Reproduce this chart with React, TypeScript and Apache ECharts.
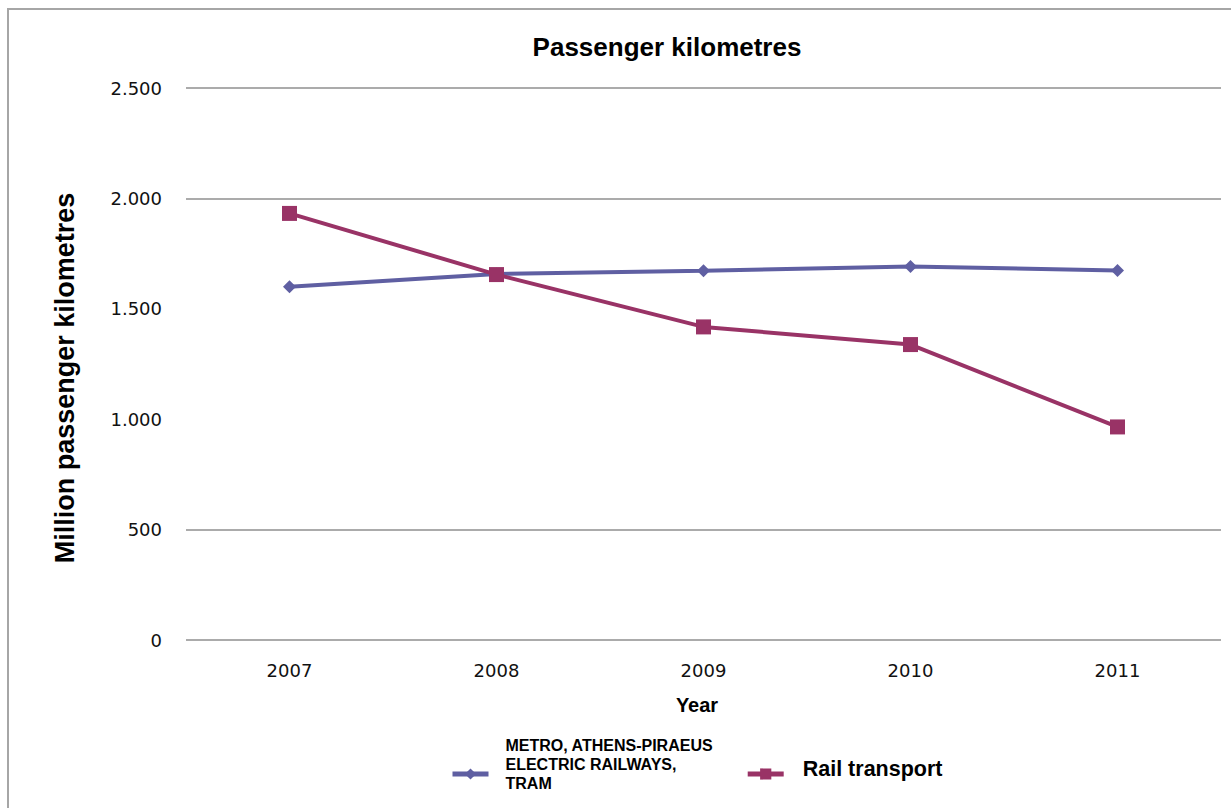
import React, { useEffect, useRef } from "react";
import * as echarts from "echarts";

const years = ["2007", "2008", "2009", "2010", "2011"];
const metroName = "METRO, ATHENS-PIRAEUS ELECTRIC RAILWAYS, TRAM";
const railName = "Rail transport";
const metroValues = [1600, 1658, 1672, 1692, 1674];
const railValues = [1932, 1655, 1418, 1338, 965];
const yTicks = ["0", "500", "1.000", "1.500", "2.000", "2.500"];

export default function App() {
  const ref = useRef<HTMLDivElement>(null);
  useEffect(() => {
    if (!ref.current) return;
    const chart = echarts.init(ref.current, null, { renderer: "svg" });
    const grid = "#ababab";
    const metroColor = "#5f5fa2";
    const railColor = "#993366";
    chart.setOption({
      animation: false,
      backgroundColor: "#ffffff",
      grid: { left: 186, right: 10, top: 88, bottom: 168, containLabel: false },
      xAxis: {
        type: "category",
        data: years,
        boundaryGap: true,
        axisLine: { show: false },
        axisTick: { show: false },
        axisLabel: {
          margin: 21,
          fontFamily: "DejaVu Sans",
          fontSize: 18,
          color: "#111",
        },
      },
      yAxis: {
        type: "value",
        min: 0,
        max: 2500,
        interval: 500,
        axisLine: { show: false },
        axisTick: { show: false },
        axisLabel: {
          margin: 24,
          fontFamily: "DejaVu Sans",
          fontSize: 18,
          color: "#111",
          formatter: (v: number) => yTicks[Math.round(v / 500)],
        },
        splitLine: {
          show: true,
          lineStyle: {
            width: 2,
            color: [grid, grid, "rgba(0,0,0,0)", "rgba(0,0,0,0)", grid, grid],
          },
        },
      },
      legend: {
        left: 445,
        top: 731,
        itemWidth: 36,
        itemHeight: 14,
        itemGap: 32,
        formatter: (name: string) =>
          name === metroName ? "METRO, ATHENS-PIRAEUS\nELECTRIC RAILWAYS,\nTRAM\n" : name + "\n",
        data: [
          {
            name: metroName,
            lineStyle: { width: 5, color: metroColor },
            textStyle: {
              fontFamily: "Liberation Sans",
              fontWeight: "bold",
              fontSize: 16,
              lineHeight: 19,
              color: "#000",
              padding: [0, 0, 0, 12],
            },
          },
          {
            name: railName,
            lineStyle: { width: 5, color: railColor },
            textStyle: {
              fontFamily: "Liberation Sans",
              fontWeight: "bold",
              fontSize: 21.5,
              lineHeight: 10,
              color: "#000",
              padding: [0, 0, 0, 14],
            },
          },
        ],
      },
      series: [
        {
          name: metroName,
          type: "line",
          data: metroValues,
          symbol: "diamond",
          symbolSize: 13,
          itemStyle: { color: metroColor },
          lineStyle: { color: metroColor, width: 4 },
          z: 2,
        },
        {
          name: railName,
          type: "line",
          data: railValues,
          symbol: "rect",
          symbolSize: 15,
          itemStyle: { color: railColor },
          lineStyle: { color: railColor, width: 4 },
          z: 3,
        },
      ],
      graphic: [
        {
          type: "rect",
          shape: { x: 8, y: 9, width: 1400, height: 1000 },
          style: { fill: "none", stroke: "#a6a6a6", lineWidth: 2 },
          silent: true,
        },
        {
          type: "text",
          x: 667,
          y: 47,
          style: {
            text: "Passenger kilometres",
            font: "bold 26px 'Liberation Sans'",
            fill: "#000",
            align: "center",
            verticalAlign: "middle",
          },
        },
        {
          type: "text",
          x: 65,
          y: 378,
          rotation: Math.PI / 2,
          style: {
            text: "Million passenger kilometres",
            font: "bold 27px 'Liberation Sans'",
            fill: "#000",
            align: "center",
            verticalAlign: "middle",
          },
        },
        {
          type: "text",
          x: 697,
          y: 705,
          style: {
            text: "Year",
            font: "bold 20px 'Liberation Sans'",
            fill: "#000",
            align: "center",
            verticalAlign: "middle",
          },
        },
      ],
    });
    return () => chart.dispose();
  }, []);
  return (
    <div
      ref={ref}
      style={{ position: "absolute", left: 0, top: 0, width: 1231, height: 808 }}
    />
  );
}
